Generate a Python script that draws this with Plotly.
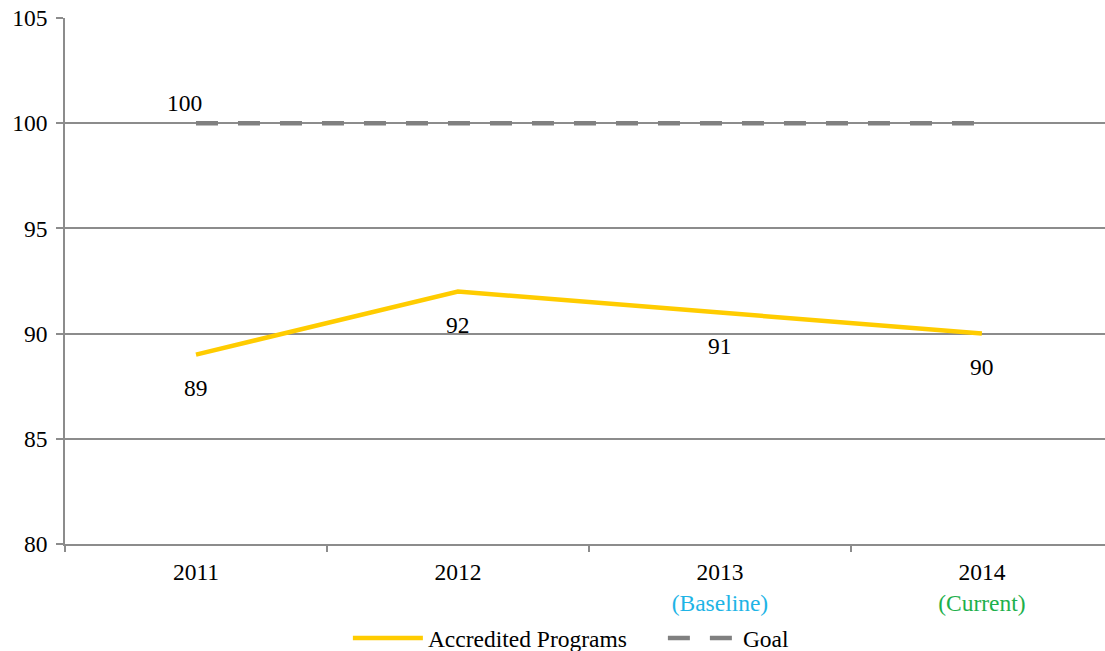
import plotly.graph_objects as go

years = ["2011", "2012", "2013", "2014"]
tick_text = ["2011", "2012",
             "2013<br><span style='color:#1EB4E6'>(Baseline)</span>",
             "2014<br><span style='color:#1DB04B'>(Current)</span>"]
accredited = [89, 92, 91, 90]
goal = [100, 100, 100, 100]

FONT = "Liberation Serif"
FS = 23.5
GRID = "#8C8C8C"

fig = go.Figure()
fig.add_trace(go.Scatter(
    x=years, y=accredited, mode="lines", name="Accredited Programs",
    line=dict(color="#FFCC00", width=4.5)))
fig.add_trace(go.Scatter(
    x=years, y=goal, mode="lines", name="Goal",
    line=dict(color="#808080", width=4.5, dash="22px,20px")))

for i, y in enumerate(accredited):
    fig.add_annotation(x=i, y=y, text=str(y), showarrow=False,
                       yshift=-33, font=dict(family=FONT, size=FS, color="black"))
fig.add_annotation(x=0, y=goal[0], text=str(goal[0]), showarrow=False,
                   yshift=20, xshift=-11, font=dict(family=FONT, size=FS, color="black"))

fig.update_layout(
    width=1105, height=651,
    margin=dict(l=65, r=0, t=18, b=107, autoexpand=False),
    paper_bgcolor="white", plot_bgcolor="white",
    font=dict(family=FONT, size=FS, color="black"),
    showlegend=True,
    legend=dict(orientation="h", x=0.272, xanchor="left", y=-0.179, yanchor="middle",
                font=dict(family=FONT, size=FS, color="black"), itemwidth=70,
                entrywidth=230, bgcolor="rgba(0,0,0,0)"),
    xaxis=dict(type="category", range=[-0.5, 3.47], tickmode="array",
               tickvals=years, ticktext=tick_text, tickson="boundaries",
               ticks="outside", ticklen=6, tickcolor=GRID, tickwidth=1.5,
               showline=True, linecolor=GRID, linewidth=1.5, showgrid=False,
               zeroline=False, automargin=False, ticklabelstandoff=6),
    yaxis=dict(range=[80, 105], dtick=5, tick0=80, ticks="outside", ticklen=7,
               tickcolor=GRID, tickwidth=1.5, showline=True, linecolor=GRID,
               linewidth=1.5, showgrid=True, gridcolor=GRID, gridwidth=1.5,
               zeroline=False, ticklabelstandoff=4, automargin=False),
)

fig.write_html("out.html")
